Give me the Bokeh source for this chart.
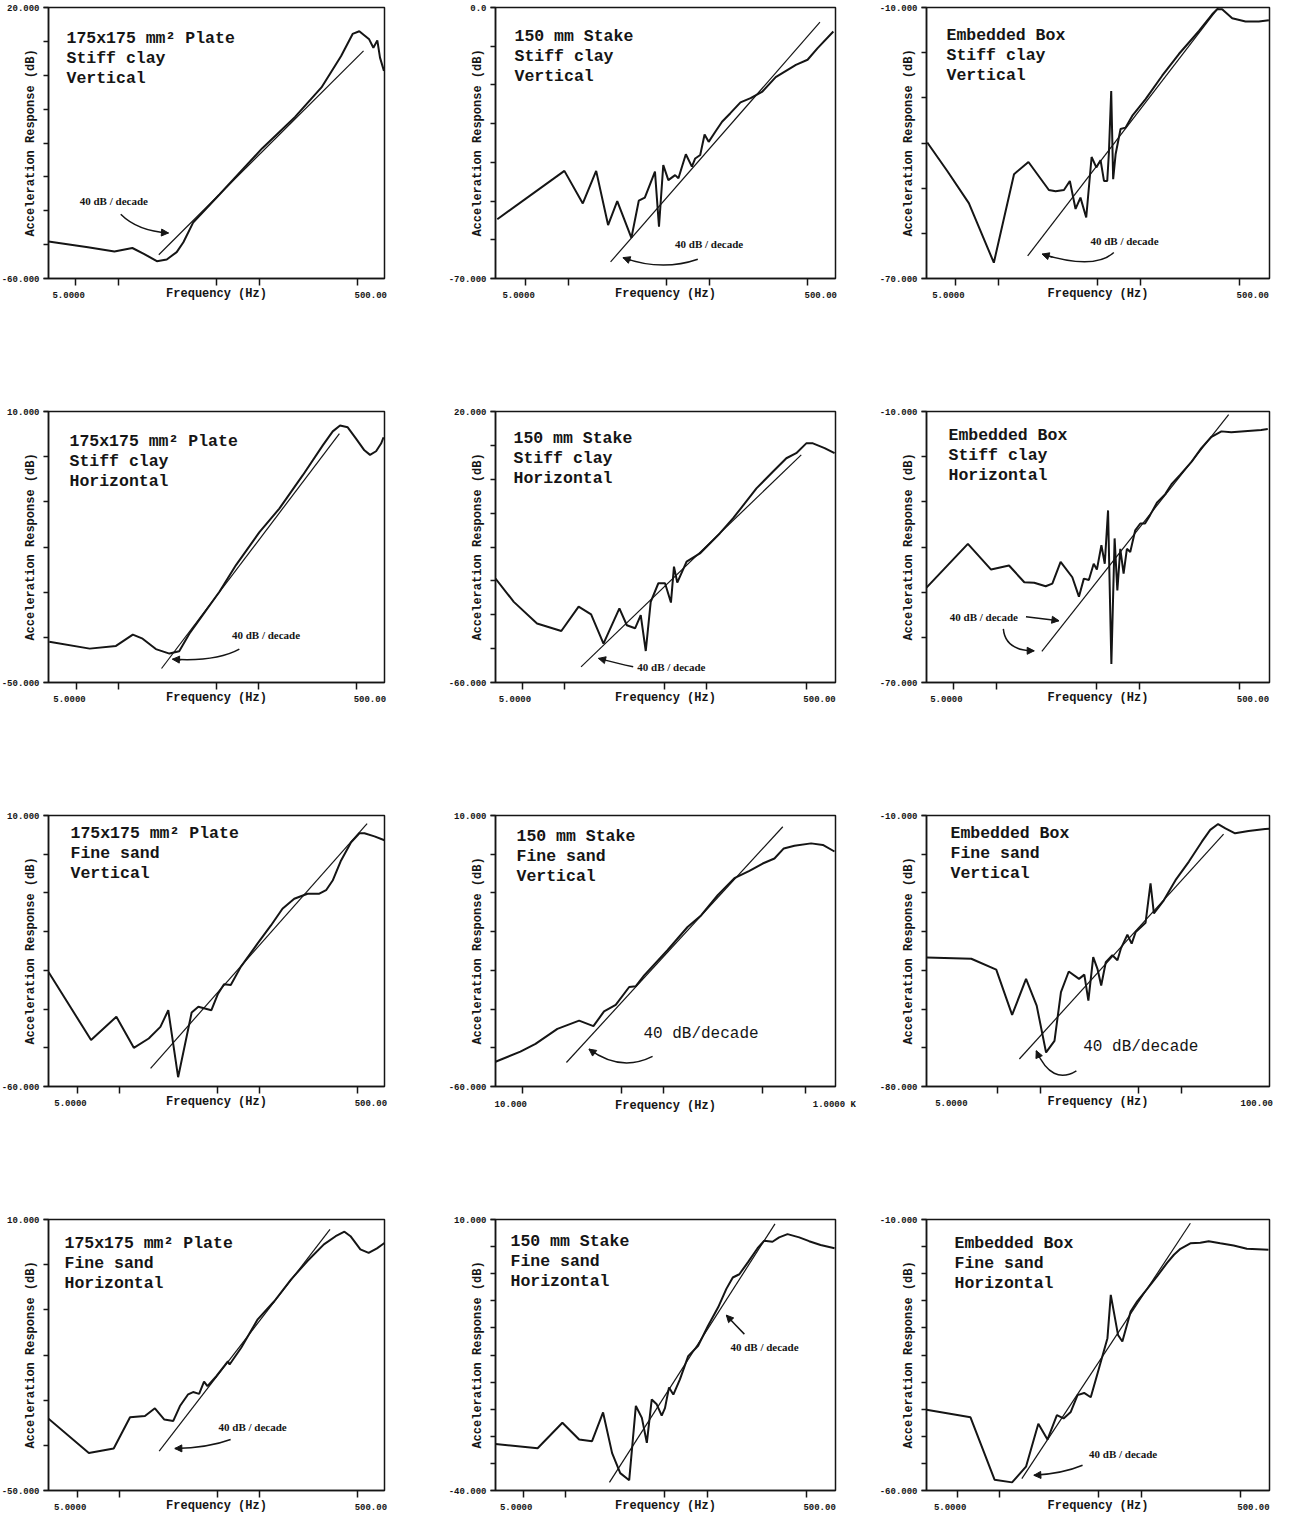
from bokeh.plotting import figure
from bokeh.layouts import column, row
from bokeh.models import FixedTicker, Arrow, NormalHead
from bokeh.core.properties import value
from bokeh.embed import file_html
from bokeh.resources import INLINE

# ------------------------------------------------------------------ data
titles = [
    ["175x175 mm² Plate", "Stiff clay", "Vertical"],
    ["150 mm Stake", "Stiff clay", "Vertical"],
    ["Embedded Box", "Stiff clay", "Vertical"],
    ["175x175 mm² Plate", "Stiff clay", "Horizontal"],
    ["150 mm Stake", "Stiff clay", "Horizontal"],
    ["Embedded Box", "Stiff clay", "Horizontal"],
    ["175x175 mm² Plate", "Fine sand", "Vertical"],
    ["150 mm Stake", "Fine sand", "Vertical"],
    ["Embedded Box", "Fine sand", "Vertical"],
    ["175x175 mm² Plate", "Fine sand", "Horizontal"],
    ["150 mm Stake", "Fine sand", "Horizontal"],
    ["Embedded Box", "Fine sand", "Horizontal"],
]

# measured responses: frequency (Hz) and acceleration response (dB)
p1_f = [3.2, 6.1, 9.4, 12.6, 15.2, 18.8, 22.1, 26.0, 29.0, 34.0, 52.3, 105, 180, 277, 382, 461, 514, 557, 604, 647, 690, 721, 769]
p1_db = [-49.1, -50.8, -52.0, -51.0, -52.7, -54.9, -54.4, -52.2, -49.3, -43.5, -35.2, -21.6, -12.3, -3.6, 5.7, 12.2, 13.0, 11.8, 10.6, 8.1, 10.3, 5.2, 1.3]

p2_f = [3.14, 9.4, 12.7, 15.8, 19.2, 22.3, 28.1, 31.7, 35.0, 41.3, 44.1, 47.3, 51.4, 57.4, 60.6, 68.4, 75.5, 79.7, 86.5, 92.9, 99.3, 110.7, 123.6, 141.6, 167, 197, 239, 297, 413, 500, 589, 762]
p2_db = [-54.7, -42.2, -50.6, -42.2, -56.2, -50.0, -59.5, -49.9, -49.1, -42.4, -56.6, -40.7, -44.6, -43.3, -44.1, -37.9, -41.1, -39.0, -38.1, -32.8, -34.7, -32.1, -29.5, -27.3, -24.5, -23.4, -21.7, -18.0, -14.8, -13.5, -10.5, -6.2]

p3_f = [3.16, 4.37, 6.2, 9.3, 12.9, 16.3, 22.7, 25.3, 29.0, 31.9, 35.0, 37.9, 41.6, 45.4, 49.0, 52.5, 55.5, 58.5, 60.1, 62.4, 64.4, 67.0, 72.6, 78.7, 87.7, 109, 142.6, 187, 259, 321, 348, 377, 444, 551, 684, 805]
p3_db = [-39.9, -46.2, -53.3, -66.5, -46.9, -44.2, -50.4, -50.7, -50.4, -48.4, -54.6, -52.1, -56.5, -43.1, -45.4, -43.8, -48.4, -48.4, -42.2, -28.5, -48.0, -42.5, -36.9, -36.6, -34.0, -30.3, -25.1, -20.3, -15.2, -11.5, -10.4, -10.4, -12.4, -13.1, -13.1, -12.8]

p4_f = [3.19, 6.2, 9.55, 12.6, 14.8, 18.4, 23.0, 27.0, 31.9, 39.7, 52.3, 68.7, 101, 140, 206, 286, 337, 380, 431, 494, 567, 622, 687, 746, 777]
p4_db = [-41.0, -42.5, -41.9, -39.4, -40.3, -42.6, -43.6, -43.1, -39.2, -35.1, -29.9, -24.0, -16.7, -11.5, -4.1, 2.5, 5.6, 6.9, 6.5, 4.0, 1.4, 0.4, 1.2, 2.9, 4.3]

p5_f = [3.25, 4.37, 6.37, 9.44, 12.5, 15.3, 18.7, 24.2, 27.3, 31.2, 34.2, 37.1, 40.2, 45.5, 50.7, 55.8, 58.6, 61.8, 71.9, 89.2, 123, 153, 223, 292, 362, 425, 500, 557, 673, 791]
p5_db = [-29.3, -36.2, -42.6, -44.8, -37.6, -39.9, -48.5, -38.1, -43.1, -44.0, -40.1, -50.7, -36.2, -30.7, -30.7, -36.4, -25.8, -30.5, -24.3, -21.9, -16.0, -11.5, -2.7, 2.3, 6.2, 7.7, 10.6, 10.6, 9.2, 7.7]

p6_f = [3.23, 6.29, 9.14, 12.2, 15.6, 18.3, 22.0, 24.5, 28.0, 33.8, 37.6, 40.7, 44.1, 47.7, 50.2, 54.0, 57.0, 60.1, 63.4, 66.8, 69.8, 73.2, 77.2, 81.4, 85.9, 93.1, 101, 109, 118, 132, 151, 167, 191, 231, 270, 318, 373, 437, 571, 708, 787]
p6_db = [-49.0, -39.3, -45.0, -44.1, -47.8, -47.9, -48.7, -48.1, -43.3, -46.7, -51.0, -47.0, -47.3, -43.7, -45.0, -39.6, -43.7, -31.9, -65.9, -38.1, -49.6, -40.4, -45.9, -40.4, -41.1, -36.3, -34.8, -34.8, -33.0, -30.2, -28.3, -26.1, -24.1, -21.1, -18.1, -15.6, -14.4, -14.6, -14.3, -14.1, -13.9]

p7_f = [3.10, 6.24, 9.46, 12.6, 16.1, 19.5, 22.2, 26.1, 32.6, 36.4, 39.9, 45.1, 50.3, 55.5, 62.0, 73.1, 96.2, 120, 145, 176, 219, 266, 297, 331, 380, 448, 514, 558, 658, 776]
p7_db = [-30.4, -48.0, -42.0, -50.0, -47.6, -44.6, -40.3, -57.6, -40.9, -39.4, -39.8, -40.3, -36.0, -33.6, -33.8, -29.1, -23.1, -18.4, -14.1, -11.5, -10.2, -10.2, -9.3, -6.8, -1.6, 3.1, 5.4, 5.4, 4.6, 3.6]

p8_f = [6.47, 9.7, 12.4, 17.7, 25.2, 31.8, 37.8, 45.7, 56.9, 63.4, 72.6, 106, 147, 183, 240, 315, 402, 499, 604, 703, 836, 1096, 1327, 1603]
p8_db = [-53.6, -51.0, -49.0, -45.1, -43.0, -44.4, -40.6, -38.9, -34.3, -34.1, -31.3, -24.8, -18.8, -15.8, -10.6, -6.2, -4.3, -2.4, -1.1, 1.5, 2.2, 2.8, 2.4, 0.7]

p9_f = [1.56, 3.24, 4.87, 6.31, 7.92, 9.42, 10.98, 12.6, 14.0, 15.9, 18.8, 20.5, 21.9, 23.7, 25.4, 27.0, 29.1, 32.4, 35.2, 37.2, 41.4, 44.4, 47.4, 55.7, 60.4, 63.8, 75.0, 90.8, 113, 140, 160, 182, 205, 240, 299, 392, 421]
p9_db = [-46.7, -47.0, -49.8, -61.5, -52.2, -59.1, -71.2, -68.2, -55.6, -50.3, -52.2, -51.1, -57.8, -46.6, -49.6, -53.9, -47.9, -46.1, -47.4, -44.4, -40.8, -43.1, -40.1, -37.7, -27.5, -35.3, -31.9, -26.7, -21.9, -16.7, -13.7, -12.2, -13.3, -14.6, -14.0, -13.5, -13.4]

p10_f = [3.12, 6.05, 9.1, 11.9, 15.2, 17.9, 20.9, 24.2, 27.0, 30.9, 33.5, 37.0, 40.1, 42.4, 49.1, 59.3, 61.0, 73.8, 96.8, 127, 167, 219, 287, 348, 402, 444, 522, 598, 686, 776]
p10_db = [-34.1, -41.7, -40.7, -33.8, -33.5, -31.8, -34.3, -34.6, -31.3, -28.7, -28.2, -28.6, -25.9, -26.9, -24.7, -21.4, -22.1, -18.4, -12.1, -8.1, -3.3, 0.8, 4.5, 6.3, 7.3, 6.3, 3.4, 2.6, 3.6, 4.8]

p11_f = [3.18, 6.31, 9.44, 12.4, 15.3, 18.3, 21.2, 24.2, 28.0, 31.2, 34.4, 37.3, 40.4, 43.8, 47.5, 50.1, 53.5, 57.4, 63.9, 73.1, 85.9, 101, 119, 136, 151, 168, 193, 226, 252, 288, 321, 368, 445, 523, 630, 791]
p11_db = [-31.4, -32.2, -27.5, -30.6, -30.9, -25.6, -33.1, -36.8, -38.1, -24.4, -26.6, -31.2, -23.2, -24.1, -26.2, -24.8, -21.0, -22.3, -19.5, -15.2, -13.3, -9.6, -6.2, -2.8, -0.7, -0.1, 2.1, 4.7, 6.1, 5.9, 6.7, 7.3, 6.7, 6.0, 5.3, 4.7]

p12_f = [3.03, 6.2, 9.17, 12.2, 15.3, 18.7, 21.7, 25.3, 28.2, 31.7, 35.4, 39.4, 43.9, 49.0, 57.6, 60.8, 68.4, 73.4, 84.0, 93.5, 110, 129, 152, 170, 189, 222, 261, 299, 361, 449, 557, 792]
p12_db = [-45.1, -46.5, -58.0, -58.5, -55.6, -47.7, -50.6, -46.1, -46.7, -45.5, -42.4, -42.0, -42.8, -38.4, -31.9, -23.9, -31.3, -32.5, -27.0, -25.1, -22.8, -20.5, -18.0, -16.5, -15.4, -14.4, -14.3, -14.0, -14.4, -14.8, -15.4, -15.6]

# 40 dB/decade reference lines: (f_start, dB_start, f_end, dB_end)
slope_lines = [
    (19.4, -53.0, 551, 7.2),
    (20.0, -65.7, 612, -3.8),
    (16.1, -65.0, 354, -10.1),
    (20.2, -46.9, 376, 5.1),
    (13.0, -55.4, 461, 7.2),
    (20.7, -63.1, 419, -10.7),
    (16.6, -55.3, 583, 7.9),
    (20.5, -53.8, 692, 7.1),
    (7.1, -72.9, 199, -14.8),
    (19.2, -41.3, 317, 7.8),
    (20.3, -38.5, 300, 9.2),
    (14.3, -57.8, 222, -10.7),
]

# axis ranges
x_ranges = [(3.20, 776), (3.05, 789), (3.12, 813), (3.15, 789), (3.25, 803), (3.23, 809),
            (3.10, 776), (6.47, 1630), (1.56, 421), (3.12, 776), (3.18, 803), (3.03, 805)]
y_ranges = [(-60, 20), (-70, 0), (-70, -10), (-50, 10), (-60, 20), (-70, -10),
            (-60, 10), (-60, 10), (-80, -10), (-50, 10), (-40, 10), (-60, -10)]
y_steps = [10, 10, 10, 10, 10, 10, 10, 10, 10, 10, 5, 5]
y_labels = [("-60.000", "20.000"), ("-70.000", "0.0"), ("-70.000", "-10.000"), ("-50.000", "10.000"),
            ("-60.000", "20.000"), ("-70.000", "-10.000"), ("-60.000", "10.000"), ("-60.000", "10.000"),
            ("-80.000", "-10.000"), ("-50.000", "10.000"), ("-40.000", "10.000"), ("-60.000", "-10.000")]

std_ticks = [5, 10, 50, 100, 500]
x_ticks = [std_ticks] * 7 + [[10, 50, 100, 500, 1000], [5, 10, 50, 100]] + [std_ticks] * 3
x_label_pos = [(4.45, 620)] * 7 + [(8.3, 1600), (2.34, 342)] + [(4.45, 620)] * 3
x_labels = [("5.0000", "500.00")] * 7 + [("10.000", "1.0000 K"), ("5.0000", "100.00")] + [("5.0000", "500.00")] * 3

curves = [(p1_f, p1_db), (p2_f, p2_db), (p3_f, p3_db), (p4_f, p4_db), (p5_f, p5_db), (p6_f, p6_db),
          (p7_f, p7_db), (p8_f, p8_db), (p9_f, p9_db), (p10_f, p10_db), (p11_f, p11_db), (p12_f, p12_db)]

# ------------------------------------------------------------------ layout (positions in frame px / fractions)
COL_W = [438, 430, 409]
COL_LEFT = [48, 57, 58]
COL_FW = [336, 340, 343]
TOP = 7
FH = 271
ROW_H = [404, 404, 404, 303]

title_off = [(18, 31), (19, 29), (20, 28), (21, 30), (18, 27), (22, 24),
             (22, 18), (21, 21), (24, 18), (16, 24), (15, 22), (28, 24)]

# annotation text: (fx, fy, big?) ; arrows: list of (start, ctrl, end) in frame fractions
ann_text = [(0.093, 0.714, False), (0.528, 0.871, False), (0.478, 0.861, False), (0.546, 0.823, False),
            (0.417, 0.942, False), (0.068, 0.759, False), None, (0.435, 0.806, True),
            (0.457, 0.856, True), (0.506, 0.765, False), (0.691, 0.469, False), (0.474, 0.867, False)]
ann_arrows = [
    [((0.215, 0.763), (0.265, 0.825), (0.357, 0.832))],
    [((0.595, 0.929), (0.489, 0.975), (0.375, 0.923))],
    [((0.546, 0.904), (0.49, 0.97), (0.337, 0.91))],
    [((0.568, 0.877), (0.499, 0.924), (0.369, 0.914))],
    [((0.405, 0.942), (0.36, 0.93), (0.303, 0.911))],
    [((0.29, 0.757), (0.338, 0.764), (0.386, 0.772)), ((0.224, 0.802), (0.23, 0.883), (0.314, 0.883))],
    [],
    [((0.462, 0.889), (0.368, 0.948), (0.275, 0.862))],
    [((0.437, 0.942), (0.366, 0.997), (0.32, 0.868))],
    [((0.542, 0.812), (0.475, 0.843), (0.376, 0.845))],
    [((0.732, 0.423), (0.705, 0.388), (0.679, 0.353))],
    [((0.455, 0.907), (0.397, 0.938), (0.313, 0.944))],
]

INK = "#151515"
MONO = "Liberation Mono"


def make_panel(i):
    col, rw = i % 3, i // 3
    x0, x1 = x_ranges[i]
    y0, y1 = y_ranges[i]
    fw = COL_FW[col]
    p = figure(width=COL_W[col], height=ROW_H[rw], x_axis_type="log",
               x_range=(x0, x1), y_range=(y0, y1),
               output_backend="svg", toolbar_location=None,
               min_border_left=COL_LEFT[col], min_border_right=COL_W[col] - COL_LEFT[col] - fw,
               min_border_top=TOP, min_border_bottom=ROW_H[rw] - TOP - FH)
    p.grid.visible = False
    p.outline_line_color = INK
    p.outline_line_width = 1.5
    p.background_fill_color = "white"
    p.border_fill_color = "white"

    def X(fx):
        return x0 * (x1 / x0) ** fx

    def Y(fy):
        return y1 - fy * (y1 - y0)

    # x axis
    xa = p.xaxis[0]
    lp = x_label_pos[i]
    xa.ticker = FixedTicker(ticks=list(lp), minor_ticks=x_ticks[i])
    xa.major_label_overrides = {lp[0]: x_labels[i][0], lp[1]: x_labels[i][1]}
    xa.major_tick_line_color = None
    xa.major_tick_out = 7
    xa.major_label_standoff = 6
    xa.minor_tick_out = 7
    xa.minor_tick_in = 0
    xa.minor_tick_line_width = 1.5
    xa.minor_tick_line_color = INK
    xa.axis_line_width = 1.5
    xa.axis_line_color = INK
    xa.major_label_text_font = MONO
    xa.major_label_text_font_style = "bold"
    xa.major_label_text_font_size = "9px"
    xa.major_label_text_color = INK
    xa.axis_label = "Frequency (Hz)"
    xa.axis_label_text_font = MONO
    xa.axis_label_text_font_style = "bold"
    xa.axis_label_text_font_size = "12px"
    xa.axis_label_text_color = INK
    xa.axis_label_standoff = -14

    # y axis
    ya = p.yaxis[0]
    step = y_steps[i]
    ya.ticker = FixedTicker(ticks=[y0, y1], minor_ticks=list(range(y0, y1 + step, step)))
    ya.major_label_overrides = {y0: y_labels[i][0], y1: y_labels[i][1]}
    ya.major_tick_out = 5
    ya.major_tick_in = 0
    ya.major_tick_line_width = 1.5
    ya.major_tick_line_color = INK
    ya.minor_tick_out = 5
    ya.minor_tick_in = 0
    ya.minor_tick_line_width = 1.5
    ya.minor_tick_line_color = INK
    ya.major_label_standoff = 4
    ya.axis_line_width = 1.5
    ya.axis_line_color = INK
    ya.major_label_text_font = MONO
    ya.major_label_text_font_style = "bold"
    ya.major_label_text_font_size = "9px"
    ya.major_label_text_color = INK
    ya.axis_label = "Acceleration Response (dB)"
    ya.axis_label_text_font = MONO
    ya.axis_label_text_font_style = "bold"
    ya.axis_label_text_font_size = "12px"
    ya.axis_label_text_color = INK
    ya.axis_label_standoff = -39

    # data
    f, db = curves[i]
    p.line(f, db, line_width=2.0, line_color=INK)
    sf0, sd0, sf1, sd1 = slope_lines[i]
    p.line([sf0, sf1], [sd0, sd1], line_width=1.2, line_color=INK)

    # titles
    dx, dy = title_off[i]
    for k, t in enumerate(titles[i]):
        p.text(x=[X(dx / fw)], y=[Y((dy + 20 * k) / FH)], text=[t],
               text_font=value(MONO), text_font_style="bold", text_font_size="16.5px",
               text_baseline="middle", text_align="left", text_color=INK)

    # 40 dB / decade annotation
    at = ann_text[i]
    if at is not None:
        fx, fy, big = at
        if big:
            p.text(x=[X(fx)], y=[Y(fy)], text=["40 dB/decade"], text_font=value(MONO),
                   text_font_size="16px", text_baseline="middle", text_align="left", text_color=INK)
        else:
            p.text(x=[X(fx)], y=[Y(fy)], text=["40 dB / decade"], text_font=value("Liberation Serif"),
                   text_font_style="bold", text_font_size="11px", text_baseline="middle",
                   text_align="left", text_color=INK)
    for (s, c, e) in ann_arrows[i]:
        p.quadratic(x0=[X(s[0])], y0=[Y(s[1])], x1=[X(e[0])], y1=[Y(e[1])],
                    cx=[X(c[0])], cy=[Y(c[1])], line_width=1.5, line_color=INK)
        pre = (e[0] + 0.2 * (c[0] - e[0]), e[1] + 0.2 * (c[1] - e[1]))
        p.add_layout(Arrow(x_start=X(pre[0]), y_start=Y(pre[1]), x_end=X(e[0]), y_end=Y(e[1]),
                           line_width=1.5, line_color=INK,
                           end=NormalHead(size=7, fill_color=INK, line_color=INK)))
    return p


panels = [make_panel(i) for i in range(12)]
layout = column(*[row(*panels[r * 3:(r + 1) * 3]) for r in range(4)])

open("out.html", "w").write(file_html(layout, INLINE))
